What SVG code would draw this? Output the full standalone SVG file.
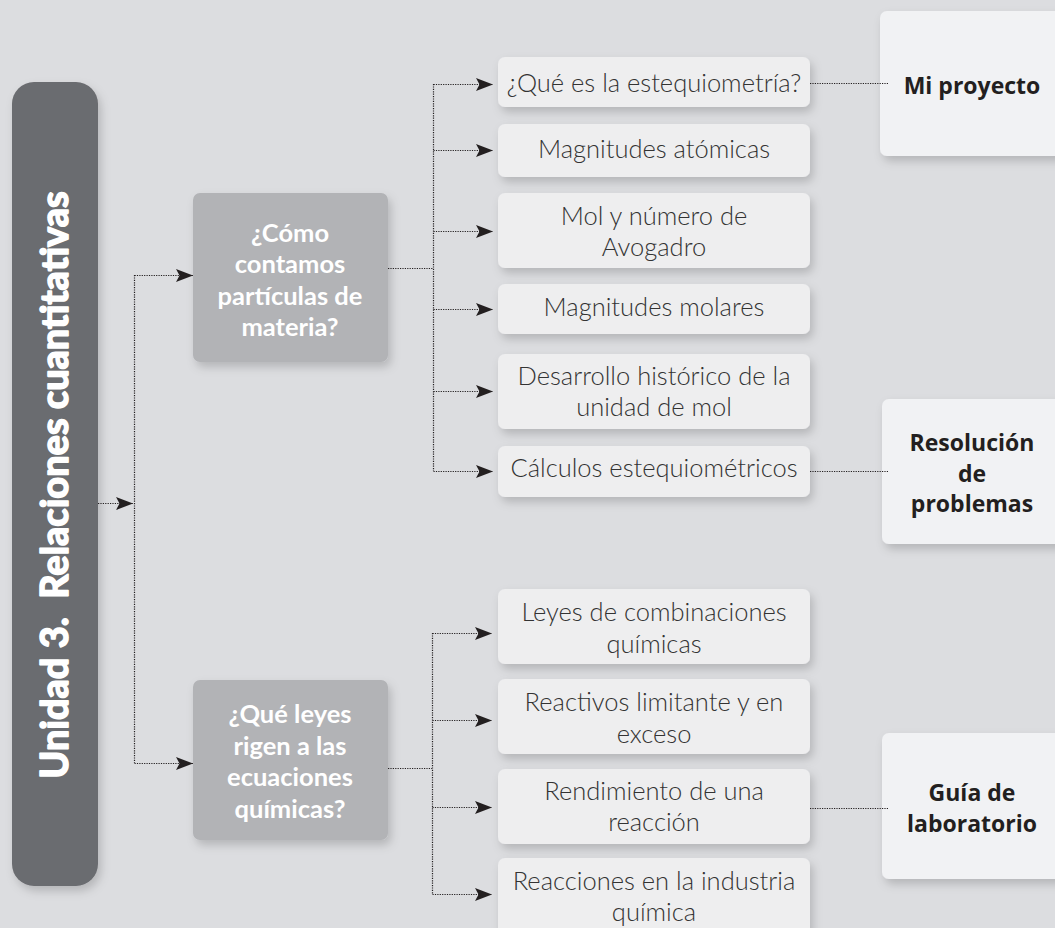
<svg xmlns="http://www.w3.org/2000/svg" width="1055" height="928" viewBox="0 0 1055 928">
<style>
.bg{fill:#dcdde0}
.unit{fill:#6b6c70}
.q{fill:#b2b3b6}
.topic{fill:#eeeeef}
.res{fill:#f1f2f4}
.tu{font-family:Lato,"Noto Sans",sans-serif;font-weight:700;font-size:38px;fill:#ffffff;stroke:#ffffff;stroke-width:1.6;stroke-linejoin:round}
.tq{font-family:Lato,"Noto Sans",sans-serif;font-weight:700;font-size:25.5px;fill:#ffffff;text-anchor:middle}
.tt{font-family:Lato,"Noto Sans",sans-serif;font-weight:300;font-size:25.5px;fill:#333333;text-anchor:middle}
.tr{font-family:"Open Sans","Noto Sans",sans-serif;font-weight:700;font-size:23px;fill:#231f20;text-anchor:middle}
.c{fill:none;stroke:#231f20;stroke-width:1.2;stroke-dasharray:1.2 1.2}
</style>
<defs>
<filter id="sh" x="-20%" y="-20%" width="140%" height="150%">
<feDropShadow dx="3" dy="5" stdDeviation="5" flood-color="#000" flood-opacity="0.18"/>
</filter>
<marker id="ar" markerUnits="userSpaceOnUse" markerWidth="20" markerHeight="16" refX="17" refY="7" orient="auto">
<path d="M0,0.5 L17,7 L0,13.5 L3.5,7 z" fill="#231f20"/>
</marker>
</defs>
<rect class="bg" x="0" y="0" width="1055" height="928"/>

<g id="unidad">
<rect class="unit" x="12" y="82" width="86" height="804" rx="22" filter="url(#sh)"/>
<text class="tu" transform="translate(68,485) rotate(-90)" text-anchor="middle">Unidad 3.&#160; Relaciones cuantitativas</text>
</g>

<g id="q1">
<rect class="q" x="193" y="193" width="195" height="169" rx="7" filter="url(#sh)"/>
<text class="tq" x="290" y="242">¿Cómo</text>
<text class="tq" x="290" y="273">contamos</text>
<text class="tq" x="290" y="305">partículas de</text>
<text class="tq" x="290" y="336">materia?</text>
</g>

<g id="q2">
<rect class="q" x="193" y="680" width="195" height="160" rx="7" filter="url(#sh)"/>
<text class="tq" x="290" y="723">¿Qué leyes</text>
<text class="tq" x="290" y="755">rigen a las</text>
<text class="tq" x="290" y="786">ecuaciones</text>
<text class="tq" x="290" y="818">químicas?</text>
</g>

<g id="t1">
<rect class="topic" x="498" y="57" width="312" height="50" rx="7" filter="url(#sh)"/>
<text class="tt" x="654" y="92">¿Qué es la estequiometría?</text>
</g>
<g id="t2">
<rect class="topic" x="498" y="124" width="312" height="53" rx="7" filter="url(#sh)"/>
<text class="tt" x="654" y="158">Magnitudes atómicas</text>
</g>
<g id="t3">
<rect class="topic" x="498" y="193" width="312" height="75" rx="7" filter="url(#sh)"/>
<text class="tt" x="654" y="225">Mol y número de</text>
<text class="tt" x="654" y="256">Avogadro</text>
</g>
<g id="t4">
<rect class="topic" x="498" y="284" width="312" height="50" rx="7" filter="url(#sh)"/>
<text class="tt" x="654" y="316">Magnitudes molares</text>
</g>
<g id="t5">
<rect class="topic" x="498" y="354" width="312" height="75" rx="7" filter="url(#sh)"/>
<text class="tt" x="654" y="385">Desarrollo histórico de la</text>
<text class="tt" x="654" y="416">unidad de mol</text>
</g>
<g id="t6">
<rect class="topic" x="498" y="446" width="312" height="51" rx="7" filter="url(#sh)"/>
<text class="tt" x="654" y="477">Cálculos estequiométricos</text>
</g>

<g id="t7">
<rect class="topic" x="498" y="589" width="312" height="75" rx="7" filter="url(#sh)"/>
<text class="tt" x="654" y="621">Leyes de combinaciones</text>
<text class="tt" x="654" y="653">químicas</text>
</g>
<g id="t8">
<rect class="topic" x="498" y="679" width="312" height="75" rx="7" filter="url(#sh)"/>
<text class="tt" x="654" y="711">Reactivos limitante y en</text>
<text class="tt" x="654" y="743">exceso</text>
</g>
<g id="t9">
<rect class="topic" x="498" y="769" width="312" height="75" rx="7" filter="url(#sh)"/>
<text class="tt" x="654" y="800">Rendimiento de una</text>
<text class="tt" x="654" y="831">reacción</text>
</g>
<g id="t10">
<rect class="topic" x="498" y="858" width="312" height="80" rx="7" filter="url(#sh)"/>
<text class="tt" x="654" y="890">Reacciones en la industria</text>
<text class="tt" x="654" y="921">química</text>
</g>

<g id="r1">
<rect class="res" x="880" y="11" width="190" height="145" rx="7" filter="url(#sh)"/>
<text class="tr" x="972" y="94">Mi proyecto</text>
</g>
<g id="r2">
<rect class="res" x="882" y="399" width="190" height="145" rx="7" filter="url(#sh)"/>
<text class="tr" x="972" y="451">Resolución</text>
<text class="tr" x="972" y="482">de</text>
<text class="tr" x="972" y="512">problemas</text>
</g>
<g id="r3">
<rect class="res" x="882" y="733" width="190" height="146" rx="7" filter="url(#sh)"/>
<text class="tr" x="972" y="801">Guía de</text>
<text class="tr" x="972" y="832">laboratorio</text>
</g>

<g id="connectors">
<path class="c" d="M98,503.5 H133" marker-end="url(#ar)"/>
<path class="c" d="M134.5,275 V763"/>
<path class="c" d="M134.5,275.5 H193" marker-end="url(#ar)"/>
<path class="c" d="M134.5,763.5 H193" marker-end="url(#ar)"/>

<path class="c" d="M388,268.5 H433"/>
<path class="c" d="M433.5,84 V471"/>
<path class="c" d="M433.5,84.5 H493" marker-end="url(#ar)"/>
<path class="c" d="M433.5,150.5 H493" marker-end="url(#ar)"/>
<path class="c" d="M433.5,231.5 H493" marker-end="url(#ar)"/>
<path class="c" d="M433.5,309.5 H493" marker-end="url(#ar)"/>
<path class="c" d="M433.5,391.5 H493" marker-end="url(#ar)"/>
<path class="c" d="M433.5,471.5 H493" marker-end="url(#ar)"/>

<path class="c" d="M388,768.5 H432"/>
<path class="c" d="M432.5,633 V894"/>
<path class="c" d="M432.5,633.5 H492" marker-end="url(#ar)"/>
<path class="c" d="M432.5,720.5 H492" marker-end="url(#ar)"/>
<path class="c" d="M432.5,807.5 H492" marker-end="url(#ar)"/>
<path class="c" d="M432.5,894.5 H492" marker-end="url(#ar)"/>

<path class="c" d="M810,83.5 H888"/>
<path class="c" d="M810,471.5 H888"/>
<path class="c" d="M810,808.5 H888"/>
</g>
</svg>
